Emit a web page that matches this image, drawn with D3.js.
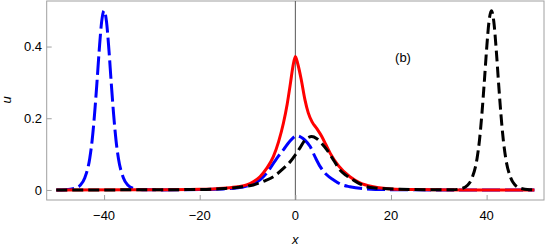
<!DOCTYPE html>
<html>
<head>
<meta charset="utf-8">
<script src="https://cdn.jsdelivr.net/npm/d3@7"></script>
<style>
  body { margin: 0; background: #fff; }
  svg { display: block; font-family: "Liberation Sans", Arial, sans-serif; }
</style>
</head>
<body>
<script>
// u(x), [x, u] pairs
var blueSeries = [[-50,0],[-48,0.0007],[-46,0.0049],[-45,0.013],[-44,0.035],[-43,0.088],[-42.5,0.138],[-42,0.21],[-41.5,0.298],[-41,0.393],[-40.5,0.47],[-40,0.5],[-39.5,0.47],[-39,0.393],[-38.5,0.298],[-38,0.21],[-37.5,0.138],[-37,0.088],[-36,0.035],[-35,0.013],[-34,0.0049],[-32,0.0007],[-28,0.0002],[-20,0.001],[-15,0.003],[-12,0.006],[-10.2,0.011],[-7.4,0.028],[-6,0.047],[-4.6,0.074],[-3.5,0.095],[-2.5,0.112],[-1.2,0.135],[0.3,0.151],[1.2,0.147],[2,0.139],[3.1,0.121],[4.2,0.09],[5.2,0.065],[6.5,0.043],[8,0.028],[9.5,0.016],[11.4,0.009],[14.9,0.003],[20,0.0008],[30,0.0001],[50,0]];
var redSeries = [[-50,0],[-30,0.0005],[-20,0.002],[-15,0.005],[-12,0.009],[-10.2,0.014],[-8.8,0.023],[-7.4,0.037],[-6,0.06],[-4.6,0.093],[-3.5,0.135],[-2.5,0.186],[-1.7,0.24],[-1,0.3],[-0.5,0.345],[0,0.372],[0.5,0.352],[1.2,0.31],[2,0.252],[2.7,0.215],[3.5,0.19],[4.5,0.171],[5.5,0.15],[6.4,0.126],[7.3,0.102],[9,0.068],[11.4,0.037],[13.5,0.02],[16.3,0.009],[20,0.003],[25,0.001],[35,0.0002],[50,0]];
var blackSeries = [[-50,0],[-30,0.0005],[-20,0.0015],[-15,0.004],[-11.5,0.008],[-8.8,0.014],[-6.5,0.025],[-4.6,0.037],[-2.5,0.06],[-1,0.08],[0,0.098],[1,0.118],[2,0.139],[2.8,0.147],[3.4,0.149],[4.5,0.143],[5.5,0.13],[6.6,0.112],[8,0.083],[9.3,0.056],[10.7,0.04],[12.1,0.028],[13.5,0.017],[14.9,0.009],[17,0.005],[22,0.002],[30,0.0006],[33,0.0007],[35,0.0049],[36,0.013],[37,0.035],[38,0.088],[38.5,0.138],[39,0.21],[39.5,0.298],[40,0.393],[40.5,0.47],[41,0.5],[41.5,0.47],[42,0.393],[42.5,0.298],[43,0.21],[43.5,0.138],[44,0.088],[45,0.035],[46,0.013],[47,0.0049],[49,0.0007],[50,0.0002]];

var xTicks = [-40, -20, 0, 20, 40];
var yTicks = [0, 0.2, 0.4];

var width = 545, height = 248;
var svg = d3.select("body").append("svg")
    .attr("width", width)
    .attr("height", height);

var x = d3.scaleLinear().domain([-52, 52]).range([46.7, 544]);
var y = d3.scaleLinear().domain([-0.028, 0.527]).range([200, 1]);

var frameColor = "#a0a0a0";

// frame
svg.append("rect")
    .attr("x", x(-52))
    .attr("y", y(0.527))
    .attr("width", x(52) - x(-52))
    .attr("height", y(-0.028) - y(0.527))
    .style("fill", "none")
    .style("stroke", frameColor)
    .style("stroke-width", 1);

// x = 0 line
svg.append("line")
    .attr("x1", x(0)).attr("x2", x(0))
    .attr("y1", y(-0.028)).attr("y2", y(0.527))
    .style("stroke", "#555")
    .style("stroke-width", 1);

// ticks
var xAxis = d3.axisTop(x).tickValues(xTicks).tickSize(5).tickFormat("");
svg.append("g").attr("transform", "translate(0," + y(-0.028) + ")").call(xAxis)
    .call(function (g) { g.select(".domain").remove(); g.selectAll("line").style("stroke", frameColor); });
var yAxis = d3.axisRight(y).tickValues(yTicks).tickSize(5).tickFormat("");
svg.append("g").attr("transform", "translate(" + x(-52) + ",0)").call(yAxis)
    .call(function (g) { g.select(".domain").remove(); g.selectAll("line").style("stroke", frameColor); });

// tick labels
svg.selectAll(".xlab")
    .data(xTicks)
    .enter()
    .append("text")
    .attr("x", function (d) { return x(d); })
    .attr("y", 219.5)
    .attr("text-anchor", "middle")
    .style("font-size", "13px")
    .text(function (d) { return d < 0 ? "\u2212" + Math.abs(d) : d; });

svg.selectAll(".ylab")
    .data(yTicks)
    .enter()
    .append("text")
    .attr("x", 42)
    .attr("y", function (d) { return y(d); })
    .attr("dy", "0.35em")
    .attr("text-anchor", "end")
    .style("font-size", "13px")
    .text(function (d) { return d === 0 ? "0" : d; });

// axis labels
svg.append("text")
    .attr("x", x(0))
    .attr("y", 244)
    .attr("text-anchor", "middle")
    .style("font-size", "13px")
    .style("font-style", "italic")
    .text("x");
svg.append("text")
    .attr("transform", "translate(11,100) rotate(-90)")
    .attr("text-anchor", "middle")
    .style("font-size", "13px")
    .style("font-style", "italic")
    .text("u");

svg.append("text")
    .attr("x", 403)
    .attr("y", 62)
    .attr("text-anchor", "middle")
    .style("font-size", "13px")
    .text("(b)");

var line = d3.line()
    .x(function (d) { return x(d[0]); })
    .y(function (d) { return y(d[1]); })
    .curve(d3.curveMonotoneX);

svg.append("path").datum(blueSeries)
    .attr("d", line)
    .style("fill", "none")
    .style("stroke", "#0000ff")
    .style("stroke-width", 3)
    .style("stroke-dasharray", "18,5");
svg.append("path").datum(redSeries)
    .attr("d", line)
    .style("fill", "none")
    .style("stroke", "#ff0000")
    .style("stroke-width", 3);
svg.append("path").datum(blackSeries)
    .attr("d", line)
    .style("fill", "none")
    .style("stroke", "#000")
    .style("stroke-width", 3)
    .style("stroke-dasharray", "11,5");
</script>
</body>
</html>
